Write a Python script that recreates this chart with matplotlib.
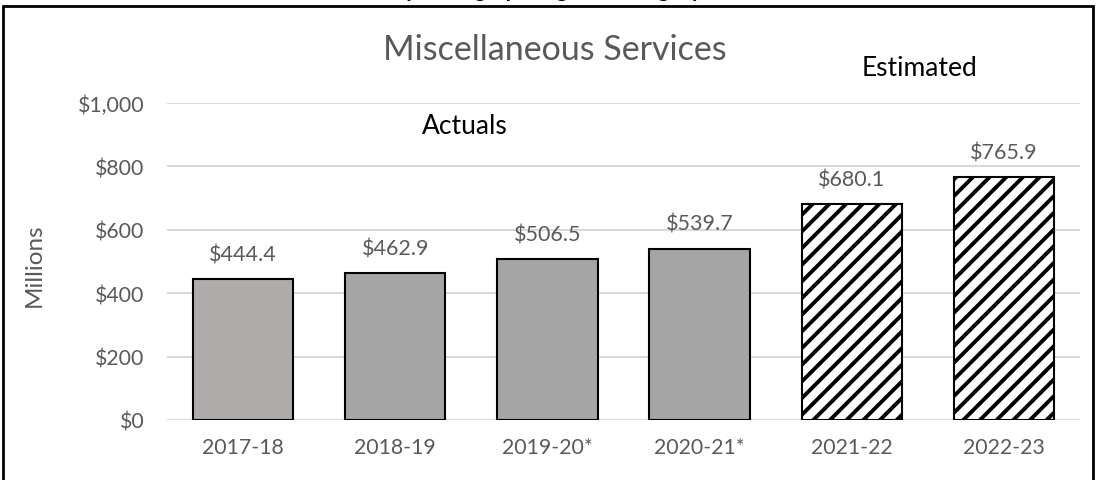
import matplotlib
matplotlib.use("Agg")
import matplotlib.pyplot as plt
from matplotlib.patches import Rectangle
from matplotlib.ticker import FuncFormatter

plt.rcParams['font.family'] = ['Lato', 'DejaVu Sans']
plt.rcParams['hatch.linewidth'] = 2.8

# datos
years = ["2017-18", "2018-19", "2019-20*", "2020-21*", "2021-22", "2022-23"]
values = [444.4, 462.9, 506.5, 539.7, 680.1, 765.9]
estimated = [False, False, False, False, True, True]
colors = ["#AFABAB", "#A5A5A5", "#A5A5A5", "#A5A5A5", "white", "white"]

gris = "#595959"

fig = plt.figure(figsize=(10.96, 4.81), dpi=100)
ax = fig.add_axes([167/1096, 1 - 421/481, (1080-167)/1096, 317/481])

x = range(len(years))
for i in x:
    ax.bar(i, values[i], width=0.66, color=colors[i], edgecolor="black",
           linewidth=1.5, hatch="//" if estimated[i] else None, zorder=3)
    ax.annotate(f"${values[i]:.1f}", (i, values[i]), xytext=(0, 18),
                textcoords="offset points", ha="center", va="center",
                fontsize=15.5, color=gris)

ax.set_xlim(-0.5, 5.5)
ax.set_ylim(0, 1000)
ax.set_yticks(range(0, 1001, 200))
ax.yaxis.set_major_formatter(FuncFormatter(lambda v, p: f"${v:,.0f}"))
ax.set_xticks(list(x))
ax.set_xticklabels(years)
ax.tick_params(length=0, labelsize=15.3, labelcolor=gris)
ax.tick_params(axis="y", pad=16)
ax.tick_params(axis="x", pad=12)
ax.grid(axis="y", color="#D9D9D9", linewidth=1.5, zorder=0)
for s in ax.spines.values():
    s.set_visible(False)
ax.set_ylabel("Millions", fontsize=17.5, color=gris)
ax.yaxis.set_label_coords((45 - 167) / 913, (421 - 265) / 317)

# textos
fig.text(555/1096, 1 - 50/481, "Miscellaneous Services", ha="center", va="center",
         fontsize=24.5, color=gris)
fig.text(920/1096, 1 - 68/481, "Estimated", ha="center", va="center",
         fontsize=19, color="black")
fig.text(465/1096, 1 - 126/481, "Actuals", ha="center", va="center",
         fontsize=19, color="black")
# título superior recortado, como en el original
fig.text(548/1096, 1 + 3/481, "Spending by Program Category", ha="center",
         va="baseline", fontsize=16, fontweight="bold", color="black")

# marco
fig.patches.append(Rectangle((3/1096, -0.05), 1090/1096, 1.05 - 7/481,
                             transform=fig.transFigure, fill=False,
                             edgecolor="black", linewidth=2))

fig.savefig("out.png", dpi=100)
